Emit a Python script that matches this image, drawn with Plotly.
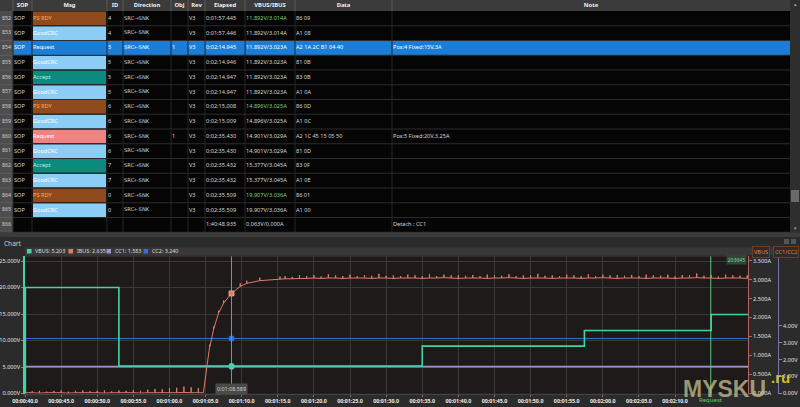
import plotly.graph_objects as go

# ---------------- PD message log (table) ----------------
row_no = ["852", "853", "854", "855", "856", "857", "858", "859", "860", "861", "862", "863", "864", "865", "866"]
sop = ["SOP"] * 14 + [""]
msg = ["PS RDY", "GoodCRC", "Request", "GoodCRC", "Accept", "GoodCRC", "PS RDY", "GoodCRC",
       "Request", "GoodCRC", "Accept", "GoodCRC", "PS RDY", "GoodCRC", ""]
msg_id = ["4", "4", "5", "5", "5", "5", "6", "6", "6", "6", "7", "7", "0", "0", ""]
direction = ["SRC→SNK", "SRC←SNK", "SRC←SNK", "SRC→SNK", "SRC→SNK", "SRC←SNK", "SRC→SNK", "SRC←SNK",
             "SRC←SNK", "SRC→SNK", "SRC→SNK", "SRC←SNK", "SRC→SNK", "SRC←SNK", ""]
obj = ["", "", "1", "", "", "", "", "", "1", "", "", "", "", "", ""]
rev = ["V3"] * 14 + [""]
elapsed = ["0:01:57.445", "0:01:57.446", "0:02:14.945", "0:02:14.946", "0:02:14.947", "0:02:14.947",
           "0:02:15.008", "0:02:15.009", "0:02:35.430", "0:02:35.430", "0:02:35.432", "0:02:35.432",
           "0:02:35.509", "0:02:35.509", "1:40:48.935"]
vbus_ibus = ["11.892V/3.014A", "11.892V/3.014A", "11.892V/3.023A", "11.892V/3.023A", "11.892V/3.023A",
             "11.892V/3.023A", "14.896V/3.025A", "14.896V/3.025A", "14.901V/3.029A", "14.901V/3.029A",
             "15.377V/3.045A", "15.377V/3.045A", "19.907V/3.036A", "19.907V/3.036A", "0.063V/0.000A"]
pd_data = ["86 09", "A1 08", "A2 1A 2C B1 04 40", "81 0B", "83 0B", "A1 0A", "86 0D", "A1 0C",
           "A2 1C 45 15 05 50", "81 0D", "83 0F", "A1 0E", "86 01", "A1 00", ""]
note = ["", "", "Pos:4 Fixed:15V,3A", "", "", "", "", "", "Pos:5 Fixed:20V,3.25A", "", "", "", "", "", "Detach : CC1"]
headers = ["", "SOP", "Msg", "ID", "Direction", "Obj", "Rev", "Elapsed", "VBUS/IBUS", "Data", "Note"]
selected_row = "854"

# ---------------- chart series ----------------
vbus_t = [40.0, 40.05, 53.0, 95.0, 117.45, 135.0, 140.1]
vbus_v = [0.0, 20.0, 5.2, 8.95, 11.89, 14.9, 14.9]

ibus_t = [40, 41, 42, 43, 44, 45, 46, 47, 48, 49, 50, 51, 52, 53, 54, 55, 56, 57, 58, 59, 60, 61, 62, 63,
          64, 64.7, 65.1, 65.6, 66.1, 66.8, 67.5, 68.6, 69.8, 70.7, 72.5, 75.3,
          76, 77, 78, 79, 80, 81, 82, 83, 84, 85, 86, 87, 88, 89, 90, 91, 92, 93, 94, 95,
          96, 97, 98, 99, 100, 101, 102, 103, 104, 105, 106, 107, 108, 109, 110, 111, 112, 113, 114, 115,
          116, 117, 118, 119, 120, 121, 122, 123, 124, 125, 126, 127, 128, 129, 130, 131, 132, 133, 134, 135,
          136, 137, 138, 139, 140]
ibus_a = [0.02, 0.02, 0.01, 0.02, 0.02, 0.02, 0.01, 0.02, 0.02, 0.02, 0.02, 0.01,
          0.02, 0.02, 0.02, 0.02, 0.01, 0.02, 0.02, 0.02, 0.02, 0.02, 0.03, 0.02,
          0.02, 0.02, 0.56, 1.24, 1.68, 2.12, 2.38, 2.64, 2.82, 2.90, 2.97, 3.01,
          3.02, 3.02, 3.03, 3.03, 3.04, 3.03, 3.04, 3.04, 3.03, 3.04,
          3.04, 3.04, 3.03, 3.04, 3.04, 3.03, 3.04, 3.04, 3.04, 3.03,
          3.04, 3.04, 3.05, 3.04, 3.03, 3.04, 3.04, 3.04, 3.03, 3.04,
          3.04, 3.05, 3.04, 3.03, 3.04, 3.04, 3.04, 3.03, 3.04, 3.04,
          3.04, 3.03, 3.04, 3.04, 3.05, 3.04, 3.03, 3.04, 3.04, 3.04,
          3.03, 3.04, 3.04, 3.04, 3.03, 3.04, 3.04, 3.05, 3.04, 3.04,
          3.03, 3.04, 3.04, 3.04, 3.03]
ibus_spike = [0.05, 0.04, 0.06, 0.03, 0.05, 0.06, 0.04, 0.05, 0.06, 0.04, 0.05, 0.07,
              0.04, 0.06, 0.05, 0.07, 0.06, 0.08, 0.10, 0.09, 0.12, 0.13, 0.15, 0.14,
              0.12, 0.00, 0.06, 0.05, 0.08, 0.06, 0.07, 0.00, 0.08, 0.07, 0.08, 0.07,
              0.07, 0.05, 0.09, 0.06, 0.08, 0.05, 0.10, 0.07, 0.06, 0.09,
              0.05, 0.08, 0.07, 0.11, 0.06, 0.08, 0.05, 0.09, 0.07, 0.06,
              0.10, 0.05, 0.08, 0.07, 0.09, 0.06, 0.08, 0.05, 0.10, 0.07,
              0.06, 0.09, 0.05, 0.08, 0.07, 0.11, 0.06, 0.08, 0.05, 0.09,
              0.07, 0.06, 0.10, 0.05, 0.08, 0.07, 0.09, 0.06, 0.08, 0.05,
              0.10, 0.07, 0.06, 0.09, 0.05, 0.08, 0.07, 0.11, 0.06, 0.08,
              0.05, 0.09, 0.07, 0.06, 0.08]

cc_t = [40.0, 140.1]
cc1_v = [1.583, 1.583]
cc2_v = [3.24, 3.24]

legend_names = ["VBUS", "IBUS", "CC1", "CC2"]
legend_values = [5.203, 2.635, 1.583, 3.240]
cursor_t = 68.589
cursor_label = "0:01:08.589"
request_t = 134.945
request_label = "Request"
request_tag = "203645"

# the 00:02:15.0 label sits under the "Request" cursor tag, so it is not listed
x_tickvals = [40, 45, 50, 55, 60, 65, 70, 75, 80, 85, 90, 95, 100, 105, 110, 115, 120, 125, 130]
x_ticktext = ["00:00:40.0", "00:00:45.0", "00:00:50.0", "00:00:55.0", "00:01:00.0", "00:01:05.0",
              "00:01:10.0", "00:01:15.0", "00:01:20.0", "00:01:25.0", "00:01:30.0", "00:01:35.0",
              "00:01:40.0", "00:01:45.0", "00:01:50.0", "00:01:55.0", "00:02:00.0", "00:02:05.0",
              "00:02:10.0"]
v_tickvals = [0, 5, 10, 15, 20, 25]
v_ticktext = ["0.000V", "5.000V", "10.000V", "15.000V", "20.000V", "25.000V"]
a_tickvals = [0, 0.5, 1.0, 1.5, 2.0, 2.5, 3.0, 3.5]
a_ticktext = ["0.000A", "0.500A", "1.000A", "1.500A", "2.000A", "2.500A", "3.000A", "3.500A"]
cc_tickvals = [0, 1, 2, 3, 4]
cc_ticktext = ["0.00V", "1.00V", "2.00V", "3.00V", "4.00V"]

# ---------------- styling ----------------
FONT = "Noto Sans"
C_VBUS, C_IBUS, C_CC1, C_CC2 = "#43d4a2", "#e07b6b", "#9d8fd1", "#3a6cd6"
TXT = "#d6d6d6"
SEL = "#1c7dd6"
msg_style = {"PS RDY": ("#8f4a1d", "#f5b36c"), "GoodCRC": ("#8ccdf5", "#ffffff"),
             "Accept": ("#0d8a80", "#b8f5df"), "Request": ("#f08282", "#ffffff")}
col_left = [0, 13, 32, 107, 123, 171, 188, 205, 245, 295, 392, 790]
header_h = 11
row_h = 14.75
V_MAX, A_MAX, CC_MAX = 25.95, 3.62, 8.1

shapes = []


def rect(x0, x1, y0, y1, color, layer="below"):
    shapes.append(dict(type="rect", xref="x", yref="y", x0=x0, x1=x1, y0=y0, y1=y1,
                       fillcolor=color, line=dict(width=0), layer=layer))


def hline(x0, x1, y, color, layer="below"):
    shapes.append(dict(type="line", xref="x", yref="y", x0=x0, x1=x1, y0=y, y1=y,
                       line=dict(color=color, width=1), layer=layer))


def vline(x, y0, y1, color, layer="below"):
    shapes.append(dict(type="line", xref="x", yref="y", x0=x, x1=x, y0=y0, y1=y1,
                       line=dict(color=color, width=1), layer=layer))


n = len(row_no)
row_top = [header_h + row_h * i for i in range(n)]
row_mid = [t + row_h / 2 for t in row_top]
table_bottom = header_h + row_h * n

# table body
rect(0, 790, 0, table_bottom, "#050505")
rect(0, 790, 0, header_h, "#3b3b3b")
rect(0, col_left[1], header_h, table_bottom, "#4d4d4d")
for i in range(n):
    if row_no[i] == selected_row:
        rect(col_left[1], 790, row_top[i], row_top[i] + row_h, SEL)
    elif msg[i] in msg_style:
        rect(col_left[2] + 1, col_left[3] - 1, row_top[i] + 0.5, row_top[i] + row_h - 0.5, msg_style[msg[i]][0])
for i in range(n):
    hline(col_left[1], 790, row_top[i] + row_h, "#2c2c2c")
    hline(0, col_left[1], row_top[i] + row_h, "#5e5e5e")
for x in col_left[1:-1]:
    vline(x, header_h, table_bottom, "#262626")
    vline(x, 0, header_h, "#5a5a5a")

# scrollbars and chart panel
rect(790, 800, 0, table_bottom, "#2e2e2e")
rect(791, 799, 190, 202, "#6a6a6a")
rect(0, 800, table_bottom, 237, "#3c3c3c")
rect(0, 800, 237, 407, "#2b2b2b")
rect(25, 790, 247.5, 255, "#383838")
rect(784, 789, 239, 244, "#555555")
rect(791, 796, 239, 244, "#555555")

fig = go.Figure()

# table text
cols = [sop, msg, msg_id, direction, obj, rev, elapsed, vbus_ibus, pd_data, note]
for j, col in enumerate(cols, start=1):
    colors = []
    for i in range(n):
        if row_no[i] == selected_row:
            colors.append("#ffffff")
        elif j == 2 and msg[i] in msg_style:
            colors.append(msg_style[msg[i]][1])
        elif j == 8 and msg[i] == "PS RDY":
            colors.append("#7ed07e")
        else:
            colors.append(TXT)
    family = "DejaVu Sans" if j == 4 else FONT
    size = 5.2 if j == 4 else 5.6
    fig.add_trace(go.Scatter(
        x=[col_left[j] + 1] * n, y=row_mid, text=col, mode="text", textposition="middle right",
        textfont=dict(family=family, size=size, color=colors), hoverinfo="skip", xaxis="x", yaxis="y"))

fig.add_trace(go.Scatter(
    x=[col_left[0] + 6.5] * n, y=row_mid, text=row_no, mode="text", textposition="middle center",
    textfont=dict(family=FONT, size=5.2, color="#d0d0d0"), hoverinfo="skip", xaxis="x", yaxis="y"))
fig.add_trace(go.Scatter(
    x=[(col_left[k] + col_left[k + 1]) / 2 for k in range(len(headers))], y=[header_h / 2] * len(headers),
    text=headers, mode="text", textposition="middle center",
    textfont=dict(family=FONT, size=5.8, color="#f0f0f0", weight="bold"), hoverinfo="skip",
    xaxis="x", yaxis="y"))

# chart traces: y2 = CC axis, y3 = VBUS axis, y4 = IBUS axis (drawn in that order)
fig.add_trace(go.Scatter(x=cc_t, y=cc1_v, mode="lines", line=dict(color=C_CC1, width=1.6),
                         xaxis="x2", yaxis="y2", hoverinfo="skip"))
fig.add_trace(go.Scatter(x=cc_t, y=cc2_v, mode="lines", line=dict(color=C_CC2, width=1.2),
                         xaxis="x2", yaxis="y2", hoverinfo="skip"))
fig.add_trace(go.Scatter(x=[cursor_t, cursor_t], y=[legend_values[2], legend_values[3]], mode="markers",
                         marker=dict(size=6, color=[C_CC1, C_CC2]), xaxis="x2", yaxis="y2", hoverinfo="skip"))

fig.add_trace(go.Scatter(x=[cursor_t, cursor_t], y=[0, V_MAX], mode="lines",
                         line=dict(color="#8e8e8e", width=1), xaxis="x2", yaxis="y3", hoverinfo="skip"))
fig.add_trace(go.Scatter(x=[request_t, request_t], y=[0, V_MAX], mode="lines",
                         line=dict(color="#58c87a", width=1), xaxis="x2", yaxis="y3", hoverinfo="skip"))
fig.add_trace(go.Scatter(x=vbus_t, y=vbus_v, mode="lines", line=dict(color=C_VBUS, width=1.6, shape="hv"),
                         xaxis="x2", yaxis="y3", hoverinfo="skip"))
fig.add_trace(go.Scatter(x=[cursor_t], y=[legend_values[0]], mode="markers",
                         marker=dict(size=6, color=C_VBUS), xaxis="x2", yaxis="y3", hoverinfo="skip"))

ix, iy = [], []
for t, a, s in zip(ibus_t, ibus_a, ibus_spike):
    ix.append(t)
    iy.append(a)
    if s > 0:
        ix += [t, t]
        iy += [a + s, a]
fig.add_trace(go.Scatter(x=ix, y=iy, mode="lines", line=dict(color=C_IBUS, width=1),
                         xaxis="x2", yaxis="y4", hoverinfo="skip"))
fig.add_trace(go.Scatter(x=[cursor_t], y=[legend_values[1]], mode="markers",
                         marker=dict(size=5, symbol="square", color=C_IBUS, line=dict(color="#f3b0a6", width=0.8)),
                         xaxis="x2", yaxis="y4", hoverinfo="skip"))

# plot frame top border
shapes.append(dict(type="line", xref="x", yref="y", x0=25, x1=748, y0=256, y1=256,
                   line=dict(color="#553333", width=1), layer="above"))

annotations = []


def label(x, y, text, size=5.6, color=TXT, xref="x", yref="y", xanchor="center", **kw):
    annotations.append(dict(x=x, y=y, xref=xref, yref=yref, text=text, showarrow=False, xanchor=xanchor,
                            yanchor="middle", font=dict(family=FONT, size=size, color=color), **kw))


label(2, 243, "Chart", size=6.5, color="#cfcfcf", xanchor="left")
legend_x = [27, 68.5, 106.5, 143.5]
for name, val, c, lx in zip(legend_names, legend_values, [C_VBUS, C_IBUS, C_CC1, C_CC2], legend_x):
    rect(lx, lx + 4.5, 249, 253.5, c)
    label(lx + 6, 251.3, f"{name}: {val:.3f}", size=5.4, color="#dcdcdc", xanchor="left")

label(cursor_t, 389, cursor_label, size=5.4, color="#d0d0d0", xref="x2", bgcolor="#4a4a4a", borderpad=1)
label(746.5, 259.5, request_tag, size=5.2, color="#7ad68e", xanchor="right", bgcolor="#2f4636", borderpad=0.5)
label(request_t, 400, request_label, size=6, color="#5ccf6a", xref="x2", bgcolor="#2b2b2b", borderpad=1)
label(761, 252, "VBUS", size=5.6, color="#e0863a", bgcolor="#2b2b2b", bordercolor="#6a4020", borderpad=1)
label(786, 252, "CC1/CC2", size=5.6, color="#e0863a", bgcolor="#2b2b2b", bordercolor="#6a4020", borderpad=1)
label(795, 4, "▲", size=4.5, color="#9a9a9a")
label(795, 228, "▼", size=4.5, color="#9a9a9a")

# watermark
annotations.append(dict(x=724, y=389, xref="x", yref="y", text="<b>MYSKU</b>", showarrow=False,
                        font=dict(family="Liberation Sans", size=23, color="rgba(205,200,150,0.72)")))
annotations.append(dict(x=780, y=377, xref="x", yref="y", text="<b>.ru</b>", showarrow=False,
                        font=dict(family="Liberation Sans", size=15, color="rgba(235,210,40,0.9)")))

y_dom = [(407 - 393.5) / 407, (407 - 256) / 407]
tick_font = dict(family=FONT, size=5.6, color="#e2e2e2")

fig.update_layout(
    template="none",
    width=800, height=407, margin=dict(l=0, r=0, t=0, b=0, pad=0),
    paper_bgcolor="#2b2b2b", plot_bgcolor="#1e1a1a",
    showlegend=False, hovermode=False,
    shapes=shapes, annotations=annotations,
    xaxis=dict(domain=[0, 1], range=[0, 800], visible=False, fixedrange=True, automargin=False),
    yaxis=dict(domain=[0, 1], range=[407, 0], visible=False, fixedrange=True, automargin=False),
    xaxis2=dict(domain=[25 / 800, 748 / 800], range=[40, 140.1], anchor="y2", automargin=False,
                tickvals=x_tickvals, ticktext=x_ticktext, showgrid=True, gridcolor="#383838",
                ticks="outside", ticklen=2, tickcolor="#777777", zeroline=False,
                showline=True, linecolor="#444444",
                tickfont=dict(family=FONT, size=5.3, color="#ececec", weight="bold")),
    yaxis2=dict(domain=y_dom, range=[0, CC_MAX], anchor="free", position=778 / 800, side="right",
                automargin=False, tickvals=cc_tickvals, ticktext=cc_ticktext, showgrid=False, zeroline=False,
                showline=True, linecolor="#7d72a8", ticks="outside", ticklen=3, tickcolor="#8a80b0",
                tickfont=tick_font),
    yaxis3=dict(overlaying="y2", side="left", anchor="x2", range=[0, V_MAX], automargin=False,
                tickvals=v_tickvals, ticktext=v_ticktext, showgrid=True, gridcolor="#383838",
                zeroline=False, showline=True, linecolor=C_VBUS, linewidth=1.5,
                ticks="outside", ticklen=2, tickcolor="#888888", tickfont=tick_font),
    yaxis4=dict(overlaying="y2", side="right", anchor="x2", range=[0, A_MAX], automargin=False,
                tickvals=a_tickvals, ticktext=a_ticktext, showgrid=False, zeroline=False,
                showline=True, linecolor="#b8615a", ticks="outside", ticklen=3, tickcolor="#b8615a",
                tickfont=tick_font),
)

# the page body has a default 8px margin; drop it so the figure sits at the window corner
fig.write_html("out.html", config={"displayModeBar": False},
               post_script="document.body.style.margin = '0';")
